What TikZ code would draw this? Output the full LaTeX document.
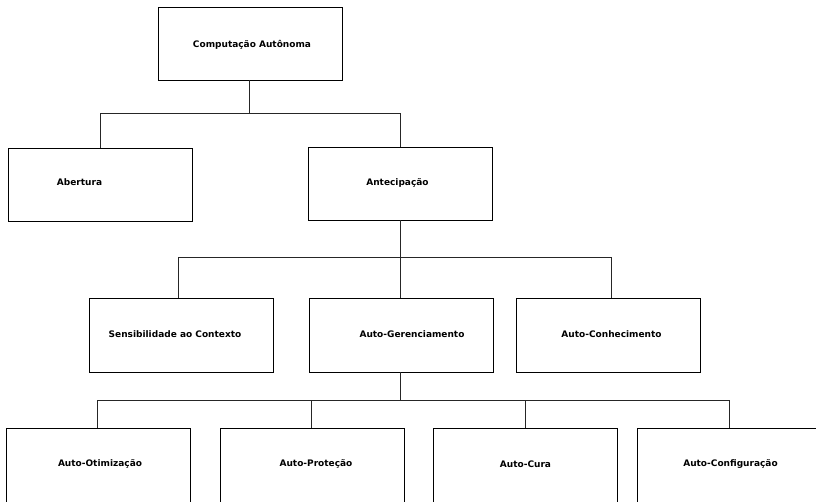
\documentclass[tikz,border=0pt]{standalone}
\usepackage{fontspec}
\setmainfont{DejaVu Sans}
\usetikzlibrary{calc}
\begin{document}
\begin{tikzpicture}[x=1pt,y=-1pt,
  box/.style={draw=black,line width=0.95pt,fill=white,minimum width=184pt,minimum height=73pt,inner sep=0pt},
  lowbox/.style={box,minimum height=84pt},
  lbl/.style={font=\bfseries\fontsize{9}{11}\selectfont,inner sep=0pt,anchor=center},
  link/.style={draw=black!85,line width=0.9pt}]
\useasboundingbox (0,0) rectangle (816,501);
\clip (0,0) rectangle (816,501);
\fill[white] (0,0) rectangle (816,501);

% level 0
\node[box] (comp) at (250,43.5) {};
% level 1
\node[box] (abert) at (100,184.5) {};
\node[box] (antec) at (400,183.5) {};
% level 2
\node[box,minimum height=74pt] (sens) at (181,335) {};
\node[box,minimum height=74pt] (gere) at (401,335) {};
\node[box,minimum height=74pt] (conh) at (608.5,335) {};
% level 3 (runs past the lower edge)
\node[lowbox] (otim) at (98,470) {};
\node[lowbox] (prot) at (312,470) {};
\node[lowbox] (cura) at (525.5,470) {};
\node[lowbox,minimum width=200pt] (conf) at (737.5,470) {};

% labels
\node[lbl] (tcomp) at (252,44.5) {Computação Autônoma};
\node[lbl] (tabert) at (79.5,182.5) {Abertura};
\node[lbl] (tantec) at (397.5,182.5) {Antecipação};
\node[lbl] (tsens) at (175,334) {Sensibilidade ao Contexto};
\node[lbl] (tgere) at (412,334) {Auto-Gerenciamento};
\node[lbl] (tconh) at (611.5,334) {Auto-Conhecimento};
\node[lbl] (totim) at (100,464) {Auto-Otimização};
\node[lbl] (tprot) at (316,464) {Auto-Proteção};
\node[lbl] (tcura) at (525.5,464) {Auto-Cura};
\node[lbl] (tconf) at (730.5,464) {Auto-Configuração};

% connectors: level 0 -> 1
\draw[link] ([xshift=-1pt]comp.south) -- ++(0,33) coordinate (j0);
\draw[link] (j0) -| (abert.north);
\draw[link] (j0) -| (antec.north);
% level 1 -> 2
\draw[link] (antec.south) -- ++(0,37) coordinate (j1);
\draw[link] (j1) -| ([xshift=-3pt]sens.north);
\draw[link] (j1) -- ([xshift=-1pt]gere.north);
\draw[link] (j1) -| ([xshift=2.5pt]conh.north);
% level 2 -> 3
\draw[link] ([xshift=-1pt]gere.south) -- ++(0,28) coordinate (j2);
\draw[link] (j2) -| ([xshift=-1pt]otim.north);
\draw[link] (j2) -| ([xshift=-1pt]prot.north);
\draw[link] (j2) -| ([xshift=-0.5pt]cura.north);
\draw[link] (j2) -| ([xshift=-8.5pt]conf.north);
\end{tikzpicture}
\end{document}
